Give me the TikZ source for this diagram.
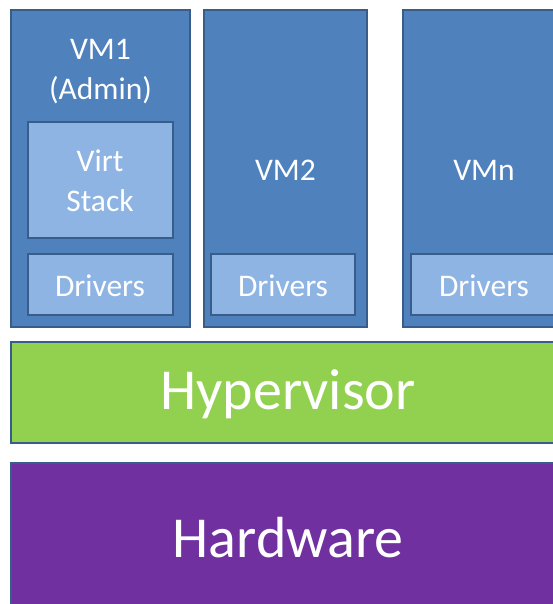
\documentclass[tikz,border=0pt]{standalone}
\usepackage{fontspec}
\setmainfont{Carlito}
\definecolor{vmblue}{HTML}{4F81BD}
\definecolor{vmedge}{HTML}{385D8A}
\definecolor{lightblue}{HTML}{8EB4E3}
\definecolor{hvgreen}{HTML}{92D050}
\definecolor{hwpurple}{HTML}{7030A0}
\tikzset{
  vmbox/.style={draw=vmedge, line width=2.4pt, fill=vmblue},
  subbox/.style={draw=vmedge, line width=2.4pt, fill=lightblue},
  label/.style={text=white, font=\fontsize{31.5}{40}\selectfont, align=center},
  biglabel/.style={text=white, font=\fontsize{58}{70}\selectfont},
}
\begin{document}
\begin{tikzpicture}[x=1pt,y=-1pt]
\useasboundingbox (0,0) rectangle (553,604);
% virtual machines
\draw[vmbox] (11,10) rectangle (190,327);
\draw[vmbox] (204,10) rectangle (367,327);
\draw[vmbox] (403,10) rectangle (560,327);
% inner boxes
\draw[subbox] (28,122) rectangle (173,238);
\draw[subbox] (28,254) rectangle (173,315);
\draw[subbox] (211,254) rectangle (355,315);
\draw[subbox] (411,254) rectangle (560,315);
% layers
\draw[fill=hvgreen, draw=vmedge, line width=2.2pt] (11,342) rectangle (560,443);
\draw[fill=hwpurple, draw=vmedge, line width=2.2pt] (11,463) rectangle (560,610);
% texts
\node[label] (vm1) at (100.5,72) {VM1\\(Admin)};
\node[label] (virt) at (100,181) {Virt\\Stack};
\node[label] (vm2) at (285.5,170) {VM2};
\node[label] (vmn) at (484,170) {VMn};
\node[label] (d1) at (100,286) {Drivers};
\node[label] (d2) at (283,286) {Drivers};
\node[label] (d3) at (484,286) {Drivers};
\node[biglabel] (hv) at (288,394) {Hypervisor};
\node[biglabel] (hw) at (288,538) {Hardware};
\end{tikzpicture}
\end{document}
